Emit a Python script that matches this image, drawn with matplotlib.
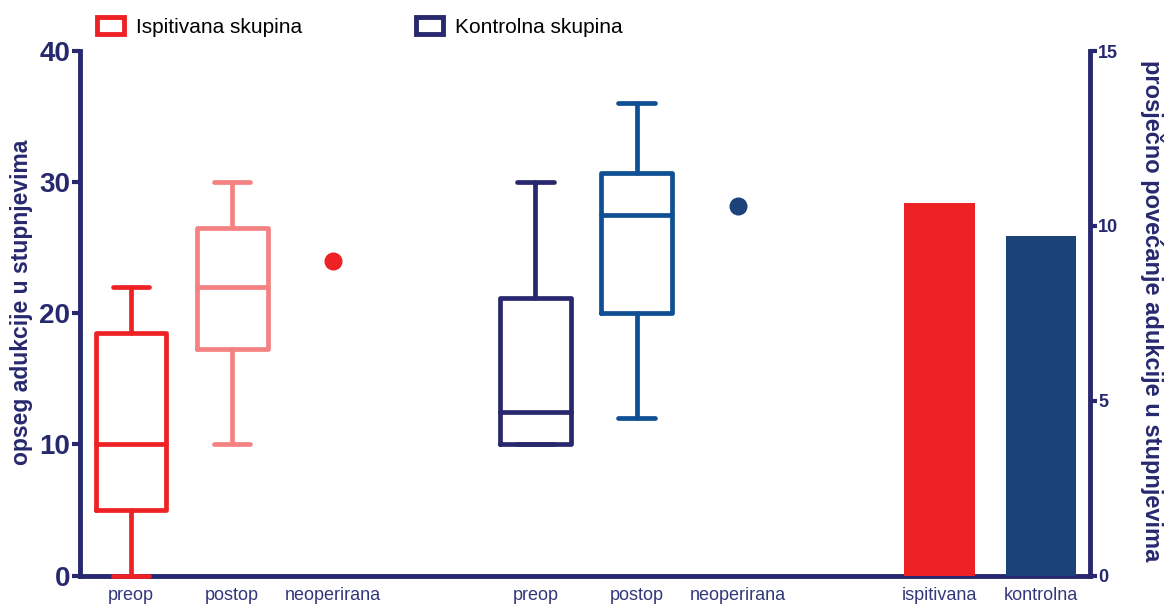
import matplotlib
matplotlib.use("Agg")
import matplotlib.pyplot as plt
from matplotlib.patches import Patch

plt.rcParams['font.family'] = ['Liberation Sans', 'DejaVu Sans']

# ---- data ----
box_labels = ["preop", "postop", "preop", "postop"]
box_whislo = [0, 10, 10, 12]
box_q1 = [5, 17.3, 10, 20]
box_med = [10, 22, 12.5, 27.5]
box_q3 = [18.5, 26.5, 21.2, 30.7]
box_whishi = [22, 30, 30, 36]
dot_labels = ["neoperirana", "neoperirana"]
dot_values = [24.0, 28.2]
bar_labels = ["ispitivana", "kontrolna"]
bar_values = [10.65, 9.72]
legend_labels = ["Ispitivana skupina", "Kontrolna skupina"]

# ---- style ----
navy = "#27286E"
tick_navy = "#34377A"
red = "#EE2224"
salmon = "#F48283"
blue = "#0F4F93"
darkblue = "#1B4379"
box_colors = [red, salmon, navy, blue]
box_pos = [0, 1, 4, 5]
dot_colors = [red, darkblue]
dot_pos = [2, 6]
bar_colors = [red, darkblue]
bar_pos = [8, 9]

fig = plt.figure(figsize=(11.7, 6.06), dpi=100)
ax = fig.add_axes([80 / 1170, 1 - 575.5 / 606, 1010 / 1170, 524.5 / 606])
ax2 = ax.twinx()

stats = []
for lab, lo, q1, med, q3, hi in zip(box_labels, box_whislo, box_q1, box_med, box_q3, box_whishi):
    stats.append(dict(label=lab, whislo=lo, q1=q1, med=med, q3=q3, whishi=hi, fliers=[]))

for s, c, p in zip(stats, box_colors, box_pos):
    lp = dict(color=c, linewidth=3.4, solid_capstyle='round', solid_joinstyle='round')
    res = ax.bxp([s], positions=[p], widths=0.70, showfliers=False, patch_artist=False,
                 boxprops=lp, whiskerprops=lp, capprops=lp, medianprops=lp,
                 capwidths=0.36, manage_ticks=False)
    for key in res:
        for art in res[key]:
            art.set_zorder(4)
            art.set_clip_on(False)

for v, c, p in zip(dot_values, dot_colors, dot_pos):
    ax.plot([p], [v], 'o', color=c, markersize=13, markeredgewidth=0)

ax2.bar(bar_pos, bar_values, width=0.70, color=bar_colors)

ax.set_xlim(-0.505, 9.485)
ax.set_ylim(0, 40)
ax2.set_ylim(0, 15)

ax.set_xticks(box_pos[:2] + dot_pos[:1] + box_pos[2:] + dot_pos[1:] + bar_pos)
ax.set_xticklabels(box_labels[:2] + dot_labels[:1] + box_labels[2:] + dot_labels[1:] + bar_labels)
ax.tick_params(axis='x', length=0, pad=8, labelsize=13, labelcolor=tick_navy)

ax.set_yticks([0, 10, 20, 30, 40])
ax.tick_params(axis='y', direction='out', length=6, width=3, color=navy,
               labelsize=20, labelcolor=navy, pad=1)
for t in ax.get_yticklabels():
    t.set_fontweight('bold')

ax2.set_yticks([0, 5, 10, 15])
ax2.tick_params(axis='y', direction='out', length=5, width=3, color=navy,
                labelsize=13, labelcolor=navy, pad=1)
for t in ax2.get_yticklabels():
    t.set_fontweight('bold')

for a in (ax, ax2):
    a.spines['top'].set_visible(False)
    for sp in a.spines.values():
        sp.set_color(navy)
        sp.set_linewidth(3.5)
ax.spines['right'].set_visible(False)
ax2.spines['left'].set_visible(False)
ax2.spines['bottom'].set_visible(False)

fig.text(22 / 1170, 1 - 302 / 606, "opseg adukcije u stupnjevima", rotation=90,
         ha='center', va='center', fontsize=16.5, fontweight='bold', color=navy)
fig.text(1152 / 1170, 1 - 311 / 606, "prosječno povećanje adukcije u stupnjevima", rotation=270,
         ha='center', va='center', fontsize=17, fontweight='bold', color=navy)

handles = [Patch(facecolor='white', edgecolor=red, linewidth=3.5, label=legend_labels[0]),
           Patch(facecolor='white', edgecolor=navy, linewidth=3.5, label=legend_labels[1])]
fig.legend(handles=handles, loc='center left', bbox_to_anchor=(97 / 1170, 1 - 27 / 606),
           ncol=2, frameon=False, fontsize=15, handlelength=1.3, handleheight=0.85,
           handletextpad=0.55, columnspacing=5.5, borderpad=0, borderaxespad=0)

fig.savefig("out.png", dpi=100)
